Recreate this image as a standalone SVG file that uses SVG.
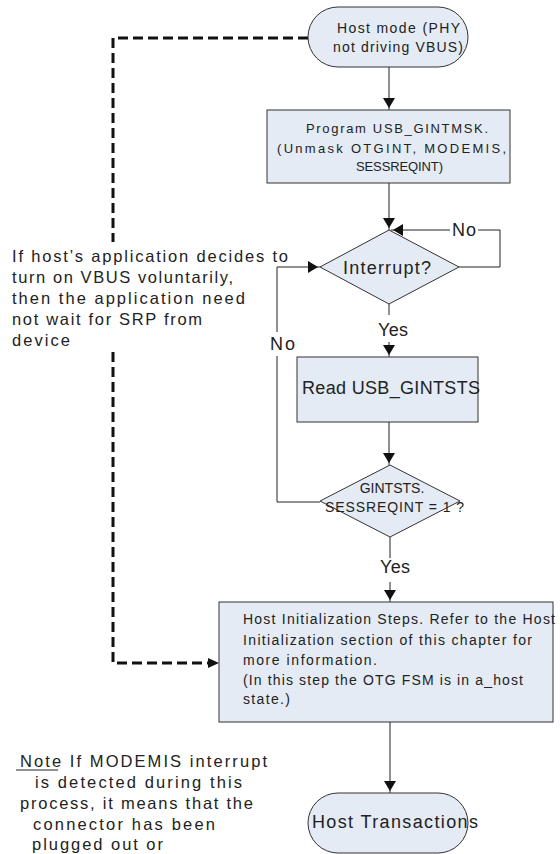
<svg xmlns="http://www.w3.org/2000/svg" width="560" height="854" viewBox="0 0 560 854">
<style>
.shape{fill:#E4EBF5;stroke:#333;stroke-width:1}
.t{font-family:"Liberation Sans",Arial,sans-serif;fill:#222}
.conn{fill:none;stroke:#222;stroke-width:1}
.dash{fill:none;stroke:#111;stroke-width:3;stroke-dasharray:10 5}
</style>
<defs>
<marker id="arr" viewBox="0 0 10 12" refX="12" refY="6" markerWidth="10" markerHeight="12" orient="auto" markerUnits="userSpaceOnUse">
<path d="M0,0 L12,6 L0,12 z" fill="#111" transform="scale(0.84,1)"/>
</marker>
</defs>
<rect width="560" height="854" fill="#fff"/>

<g id="connectors">
<path class="dash" d="M308,38 H113 V242"/>
<path class="dash" d="M113,352 V663 H208"/>
<path d="M208,658 L219,663 L208,668 z" fill="#111"/>
<path class="conn" d="M389,67 V110" marker-end="url(#arr)"/>
<path class="conn" d="M389,183 V230" marker-end="url(#arr)"/>
<path class="conn" d="M459,267 H500 V230 H478"/>
<path class="conn" d="M450,230 H391" marker-end="url(#arr)"/>
<path class="conn" d="M389,304 V315"/>
<path class="conn" d="M389,342 V357" marker-end="url(#arr)"/>
<path class="conn" d="M389,422 V465" marker-end="url(#arr)"/>
<path class="conn" d="M320,502 H277 V356"/>
<path class="conn" d="M277,332 V267 H320" marker-end="url(#arr)"/>
<path class="conn" d="M390,537 V558"/>
<path class="conn" d="M390,582 V602" marker-end="url(#arr)"/>
<path class="conn" d="M390,722 V793" marker-end="url(#arr)"/>
</g>

<g id="start">
<rect class="shape" x="308" y="7" width="160" height="60" rx="30"/>
<text class="t" font-size="14" x="337" y="33" textLength="123" lengthAdjust="spacing">Host mode (PHY</text>
<text class="t" font-size="14" x="333" y="52" textLength="130" lengthAdjust="spacing">not driving VBUS)</text>
</g>

<g id="program">
<rect class="shape" x="267" y="110" width="243" height="73"/>
<text class="t" font-size="13" x="306" y="133" textLength="182" lengthAdjust="spacing">Program USB_GINTMSK.</text>
<text class="t" font-size="13" x="277" y="153" textLength="229" lengthAdjust="spacing">(Unmask OTGINT, MODEMIS,</text>
<text class="t" font-size="13" x="356" y="171" textLength="87" lengthAdjust="spacing">SESSREQINT)</text>
</g>

<g id="interrupt">
<polygon class="shape" points="389,230 459,267 389,304 320,267"/>
<text class="t" font-size="18" x="343" y="274" textLength="88" lengthAdjust="spacing">Interrupt?</text>
</g>

<g id="read">
<rect class="shape" x="297" y="357" width="181" height="65"/>
<text class="t" font-size="18" x="302" y="394" textLength="178" lengthAdjust="spacing">Read USB_GINTSTS</text>
</g>

<g id="gintsts">
<polygon class="shape" points="390,465 460,501 390,537 320,501"/>
<text class="t" font-size="14" x="392" y="493" text-anchor="middle">GINTSTS.</text>
<text class="t" font-size="14" x="325" y="512" textLength="139" lengthAdjust="spacing">SESSREQINT =  1 ?</text>
</g>

<g id="hostinit">
<rect class="shape" x="219" y="602" width="334" height="120"/>
<text class="t" font-size="14" x="243" y="624" textLength="312" lengthAdjust="spacing">Host Initialization Steps. Refer to the Host</text>
<text class="t" font-size="14" x="243" y="645" textLength="289" lengthAdjust="spacing">Initialization section of this chapter for</text>
<text class="t" font-size="14" x="243" y="665" textLength="134" lengthAdjust="spacing">more information.</text>
<text class="t" font-size="14" x="243" y="685" textLength="280" lengthAdjust="spacing">(In this step the OTG FSM is in a_host</text>
<text class="t" font-size="14" x="243" y="704" textLength="47" lengthAdjust="spacing">state.)</text>
</g>

<g id="transactions">
<rect class="shape" x="308" y="793" width="160" height="60" rx="30"/>
<text class="t" font-size="18" x="312" y="828" textLength="166" lengthAdjust="spacing">Host Transactions</text>
</g>

<g id="labels">
<text class="t" font-size="18" x="452" y="236" textLength="24" lengthAdjust="spacing">No</text>
<text class="t" font-size="18" x="270" y="350" textLength="25" lengthAdjust="spacing">No</text>
<text class="t" font-size="18" x="378" y="336" textLength="30" lengthAdjust="spacing">Yes</text>
<text class="t" font-size="18" x="380" y="573" textLength="30" lengthAdjust="spacing">Yes</text>
</g>

<g id="vbus-note">
<text class="t" font-size="16.5" x="12" y="262" textLength="276" lengthAdjust="spacing">If host’s application decides to</text>
<text class="t" font-size="16.5" x="12" y="283" textLength="221" lengthAdjust="spacing">turn on VBUS voluntarily,</text>
<text class="t" font-size="16.5" x="12" y="304" textLength="233" lengthAdjust="spacing">then the application need</text>
<text class="t" font-size="16.5" x="12" y="325" textLength="190" lengthAdjust="spacing">not wait for SRP from</text>
<text class="t" font-size="16.5" x="12" y="346" textLength="58" lengthAdjust="spacing">device</text>
</g>

<g id="modemis-note">
<text class="t" font-size="16.5" x="20" y="767" textLength="247" lengthAdjust="spacing">Note  If MODEMIS interrupt</text>
<line x1="16" y1="770" x2="58" y2="770" stroke="#222" stroke-width="1"/>
<text class="t" font-size="16.5" x="35" y="788" textLength="207" lengthAdjust="spacing">is detected during this</text>
<text class="t" font-size="16.5" x="20" y="809" textLength="233" lengthAdjust="spacing">process, it means that the</text>
<text class="t" font-size="16.5" x="33" y="830" textLength="182" lengthAdjust="spacing">connector has been</text>
<text class="t" font-size="16.5" x="32" y="850" textLength="131" lengthAdjust="spacing">plugged out or</text>
</g>
</svg>
